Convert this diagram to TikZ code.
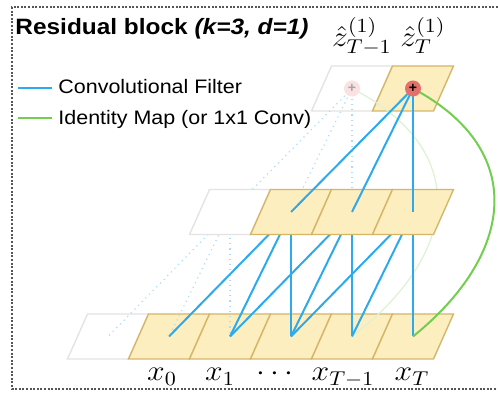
\documentclass[tikz,border=0pt]{standalone}
\usepackage{fontspec}
\newfontfamily\helv{Liberation Sans}
\usepackage{tikz}
\usetikzlibrary{positioning}

\definecolor{convblue}{RGB}{45,170,235}
\definecolor{idgreen}{RGB}{115,205,80}
\definecolor{cellfill}{RGB}{253,238,192}
\definecolor{celledge}{RGB}{213,182,105}
\definecolor{plusred}{RGB}{228,112,108}
\definecolor{framegray}{RGB}{85,85,85}

\begin{document}
\begin{tikzpicture}[
        x=0.5pt, y=-0.5pt,
        cell/.style={draw=celledge, fill=cellfill, line width=0.7pt,
            minimum width=30.5pt, minimum height=22.5pt, inner sep=0pt,
            xslant=0.444},
        blank/.style={cell, draw=gray!22, fill=white},
        conv/.style={draw=convblue, line width=1pt},
        convfade/.style={draw=convblue!40, line width=0.6pt, dotted},
        ident/.style={draw=idgreen, line width=1pt},
        identfade/.style={draw=idgreen!25, line width=0.6pt},
        addop/.style={circle, fill=plusred, minimum size=8pt, inner sep=0pt,
            font=\helv\bfseries\fontsize{7}{7}\selectfont},
        addfade/.style={addop, fill=plusred!20, text=gray!70},
        lbl/.style={font=\Large, xscale=1.1, anchor=base, inner sep=0pt},
        legtext/.style={font=\helv\fontsize{9.75}{11}\selectfont,
            xscale=1.1, anchor=base west, inner sep=0pt},
        title/.style={font=\helv\bfseries\fontsize{11.1}{13}\selectfont,
            xscale=1.1, anchor=base west, inner sep=0pt},
        frame/.style={draw=framegray, line width=1pt,
            dash pattern=on 1pt off 0.8pt},
    ]
    \useasboundingbox (0,0) rectangle (498,394);

    % =============================================
    % FRAME, TITLE, LEGEND
    % =============================================
    \draw[frame] (498,7) -- (12,7) -- (12,389) -- (498,389);
    \node[title] (ttl) at (15,35) {Residual block \textit{(k=3, d=1)}};

    \coordinate (lc1) at (18,88);
    \coordinate (lc2) at (52,88);
    \draw[conv] (lc1) -- (lc2);
    \node[legtext] (lconv) at (58,94) {Convolutional Filter};

    \coordinate (li1) at (18,118);
    \coordinate (li2) at (52,118);
    \draw[ident] (li1) -- (li2);
    \node[legtext] (lid) at (58,125) {Identity Map (or 1x1 Conv)};

    % centres of the hidden row
    \coordinate (h2) at (230,212);
    \coordinate (h3) at (291,212);
    \coordinate (h4) at (352,212);
    \coordinate (h5) at (413,212);

    % =============================================
    % INPUT ROW
    % =============================================
    \node[blank] (b0) at (108,336.5) {};
    \node[cell]  (b1) at (169,336.5) {};
    \node[cell]  (b2) at (230,336.5) {};
    \node[cell]  (b3) at (291,336.5) {};
    \node[cell]  (b4) at (352,336.5) {};
    \node[cell]  (b5) at (413,336.5) {};

    \node[lbl] (lx0)  at (162,381) {$x_0$};
    \node[lbl] (lx1)  at (220,381) {$x_1$};
    \node[lbl] (ldot) at (275,381) {$\cdots$};
    \node[lbl] (lxm)  at (343,381) {$x_{T-1}$};
    \node[lbl] (lxT)  at (412,381) {$x_T$};

    % =============================================
    % OUTPUT ROW
    % =============================================
    \node[blank] (zTm1) at (352,88.5) {};
    \node[cell]  (zT)   at (413,88.5) {};

    \node[lbl] (lzm) at (362,47) {$\hat{z}^{(1)}_{T-1}$};
    \node[lbl] (lzT) at (423,47) {$\hat{z}^{(1)}_{T}$};

    % faded receptive field of z_{T-1}
    \draw[convfade] (zTm1.center) -- (h2);
    \draw[convfade] (zTm1.center) -- (h3);
    \draw[convfade] (zTm1.center) -- (h4);
    \draw[convfade] (h2) -- (b0.center);
    \draw[convfade] (h2) -- (b1.center);
    \draw[convfade] (h2) -- (b2.center);
    \draw[identfade] (b4.center) .. controls (460,254) and (472,150) .. (zTm1.center);

    % =============================================
    % HIDDEN ROW
    % =============================================
    \draw[conv] (b1.center) -- (h3);
    \draw[conv] (b2.center) -- (h3);
    \draw[conv] (b3.center) -- (h3);
    \draw[conv] (b2.center) -- (h4);
    \draw[conv] (b3.center) -- (h4);
    \draw[conv] (b4.center) -- (h4);
    \draw[conv] (b3.center) -- (h5);
    \draw[conv] (b4.center) -- (h5);
    \draw[conv] (b5.center) -- (h5);

    \node[blank] (m2) at (h2) {};
    \node[cell]  (m3) at (h3) {};
    \node[cell]  (m4) at (h4) {};
    \node[cell]  (m5) at (h5) {};

    \draw[conv] (m3.center) -- (zT.center);
    \draw[conv] (m4.center) -- (zT.center);
    \draw[conv] (m5.center) -- (zT.center);

    % identity map
    \draw[ident] (b5.center) .. controls (515,254) and (528,150) .. (zT.center);

    \node[addfade] (addm) at (zTm1.center) {+};
    \node[addop]   (addT) at (zT.center)   {+};

\end{tikzpicture}
\end{document}
